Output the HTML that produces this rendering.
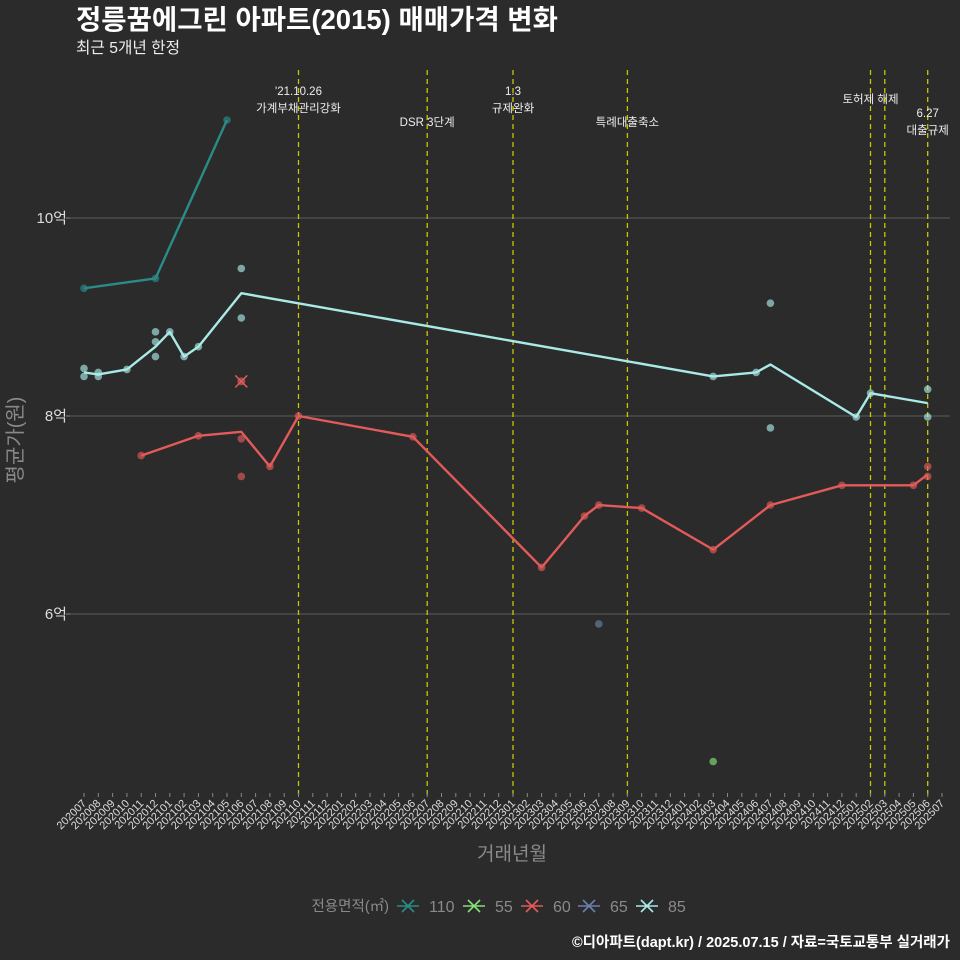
<!DOCTYPE html>
<html><head><meta charset="utf-8">
<style>
html,body{margin:0;padding:0;background:#2b2b2b;}
svg{display:block;font-family:"Liberation Sans","Noto Sans CJK KR",sans-serif;}
</style></head><body>
<svg id="chart" width="960" height="960" viewBox="0 0 960 960">
<rect width="960" height="960" fill="#2b2b2b"/>
<text x="76" y="29" fill="#fff" font-size="27.5" font-weight="bold">정릉꿈에그린 아파트(2015) 매매가격 변화</text>
<text x="76" y="53" fill="#eee" font-size="15.7">최근 5개년 한정</text>
<g id="grid"></g>
<g id="events"></g>
<g id="xaxis"></g>
<g id="series"></g>
<text x="512" y="860" fill="#8a8a8a" font-size="19" text-anchor="middle">거래년월</text>
<text transform="translate(22,440) rotate(-90)" fill="#8a8a8a" font-size="20" text-anchor="middle">평균가(원)</text>
<g id="legend"></g>
<text x="950" y="947" fill="#fff" font-size="14.5" font-weight="bold" text-anchor="end">©디아파트(dapt.kr) / 2025.07.15 / 자료=국토교통부 실거래가</text>
</svg>
<script>
const months = [];
for (let y = 2020, m = 7; !(y === 2025 && m === 8); ) { months.push(String(y) + String(m).padStart(2, '0')); m++; if (m > 12) { m = 1; y++; } }
const yTicks = [6, 8, 10];
const yTickLabels = ['6억', '8억', '10억'];
const seriesNames = ['110', '55', '60', '65', '85'];
const seriesColors = ['#2a8c88', '#86e07a', '#e25a5a', '#6a80aa', '#a9e9e6'];
// line data (average)
const line110 = [['202007', 9.29], ['202012', 9.39], ['202105', 10.99]];
const line55 = [['202403', 4.51]];
const line60 = [['202011', 7.60], ['202103', 7.80], ['202106', 7.84], ['202108', 7.49], ['202110', 8.00], ['202206', 7.79], ['202303', 6.47], ['202306', 6.99], ['202307', 7.10], ['202310', 7.07], ['202403', 6.65], ['202407', 7.10], ['202412', 7.30], ['202505', 7.30], ['202506', 7.41]];
const line65 = [['202307', 5.90]];
const line85 = [['202007', 8.44], ['202008', 8.42], ['202010', 8.47], ['202012', 8.70], ['202101', 8.85], ['202102', 8.60], ['202103', 8.70], ['202106', 9.24], ['202403', 8.40], ['202406', 8.44], ['202407', 8.52], ['202501', 7.99], ['202502', 8.23], ['202506', 8.13]];
// individual transactions
const pts110 = [['202007', 9.29], ['202012', 9.39], ['202105', 10.99]];
const pts55 = [['202403', 4.51]];
const pts60 = [['202011', 7.60], ['202103', 7.80], ['202106', 7.77], ['202106', 7.39], ['202108', 7.49], ['202110', 8.00], ['202206', 7.79], ['202303', 6.47], ['202306', 6.99], ['202307', 7.10], ['202310', 7.07], ['202403', 6.65], ['202407', 7.10], ['202412', 7.30], ['202505', 7.30], ['202506', 7.49], ['202506', 7.39]];
const pts60x = [['202106', 8.35]];
const pts65 = [['202307', 5.90]];
const pts85 = [['202007', 8.48], ['202007', 8.40], ['202008', 8.44], ['202008', 8.40], ['202010', 8.47], ['202012', 8.85], ['202012', 8.75], ['202012', 8.60], ['202101', 8.85], ['202102', 8.60], ['202103', 8.70], ['202106', 9.49], ['202106', 8.99], ['202403', 8.40], ['202406', 8.44], ['202407', 9.14], ['202407', 7.88], ['202501', 7.99], ['202502', 8.23], ['202506', 8.27], ['202506', 7.99]];
const eventMonths = ['202110', '202207', '202301', '202309', '202502', '202503', '202506'];
const eventLabels = [["'21.10.26", '가계부채관리강화'], ['DSR 3단계'], ['1.3', '규제완화'], ['특례대출축소'], ['토허제 해제'], [], ['6.27', '대출규제']];

const NS = 'http://www.w3.org/2000/svg';
const X0 = 84, XSTEP = 14.3, Y8 = 416, YU = 99, PLOT_L = 70, PLOT_R = 950, PLOT_T = 70, PLOT_B = 792;
const xS = m => X0 + months.indexOf(m) * XSTEP;
const yS = v => Y8 - (v - 8) * YU;
function mk(tag, attrs, parent) { const e = document.createElementNS(NS, tag); for (const k in attrs) e.setAttribute(k, attrs[k]); parent.appendChild(e); return e; }

const grid = document.getElementById('grid');
yTicks.forEach((t, i) => {
  const l = mk('line', { x1: PLOT_L, x2: PLOT_R, y1: yS(t), y2: yS(t), stroke: '#5e5e5e', 'stroke-width': 1 }, grid);
  
  
  const tk = mk('line', { x1: PLOT_L - 4, x2: PLOT_L, y1: yS(t), y2: yS(t), stroke: '#888' }, grid);
  
  
  const tx = mk('text', { x: PLOT_L - 3, y: yS(t) + 5, fill: '#ddd', 'font-size': 15, 'text-anchor': 'end' }, grid);
  tx.textContent = yTickLabels[i];
  
  
});

const ev = document.getElementById('events');
eventMonths.forEach((m, i) => {
  const x = xS(m);
  const l = mk('line', { x1: x, x2: x, y1: PLOT_T, y2: PLOT_B + 5, stroke: '#c8c800', 'stroke-width': 1.3, 'stroke-dasharray': '5,4' }, ev);
  
  
  const lab = eventLabels[i];
  const baseY = { 0: 95, 1: 126, 2: 95, 3: 126, 4: 103, 6: 117 }[i];
  lab.forEach((s, j) => {
    const t = mk('text', { x: x, y: baseY + j * 17, fill: '#eee', 'font-size': 11.5, 'text-anchor': 'middle' }, ev);
    t.textContent = s;
    
    
  });
});

const xa = document.getElementById('xaxis');
months.forEach(m => {
  const x = xS(m);
  const tk = mk('line', { x1: x, x2: x, y1: PLOT_B + 1, y2: PLOT_B + 5, stroke: '#888' }, xa);
  
  
  const t = mk('text', { transform: `translate(${x + 3},${PLOT_B + 12}) rotate(-45)`, fill: '#ddd', 'font-size': 11, 'text-anchor': 'end' }, xa);
  t.textContent = m;
  
  
});

const sg = document.getElementById('series');
const lines = [line110, line55, line60, line65, line85];
const pts = [pts110, pts55, pts60, pts65, pts85];
pts.forEach((arr, si) => {
  arr.forEach(p => {
    const c = mk('circle', { cx: xS(p[0]), cy: yS(p[1]), r: 3.8, fill: seriesColors[si], 'fill-opacity': 0.65 }, sg);
    
    
  });
});
pts60x.forEach(p => {
  const cx = xS(p[0]), cy = yS(p[1]);
  const c = mk('circle', { cx, cy, r: 4, fill: seriesColors[2], 'fill-opacity': 0.65 }, sg);
  
  
  const x = mk('path', { d: `M${cx - 6} ${cy - 6}L${cx + 6} ${cy + 6}M${cx - 6} ${cy + 6}L${cx + 6} ${cy - 6}`, stroke: seriesColors[2], 'stroke-width': 1.5 }, sg);
  
  
});
lines.forEach((arr, si) => {
  if (arr.length < 2) return;
  const pl = mk('polyline', { points: arr.map(p => xS(p[0]) + ',' + yS(p[1])).join(' '), fill: 'none', stroke: seriesColors[si], 'stroke-width': 2.4, 'stroke-linejoin': 'round' }, sg);
  
  
});

const lg = document.getElementById('legend');
const lt = mk('text', { x: 389, y: 911, fill: '#8a8a8a', 'font-size': 14.5, 'text-anchor': 'end' }, lg);
lt.textContent = '전용면적(㎡)';


const lgX = [408, 474, 532, 589, 647];
seriesNames.forEach((n, i) => {
  const g = mk('g', {}, lg);
  
  
  const cx = lgX[i], cy = 906;
  mk('path', { d: `M${cx - 11} ${cy}L${cx + 11} ${cy}M${cx - 6} ${cy - 6}L${cx + 6} ${cy + 6}M${cx - 6} ${cy + 6}L${cx + 6} ${cy - 6}`, stroke: seriesColors[i], 'stroke-width': 1.6 }, g);
  const t = mk('text', { x: cx + 21, y: 912, fill: '#8a8a8a', 'font-size': 16 }, g);
  t.textContent = n;
});
</script>
</body></html>
